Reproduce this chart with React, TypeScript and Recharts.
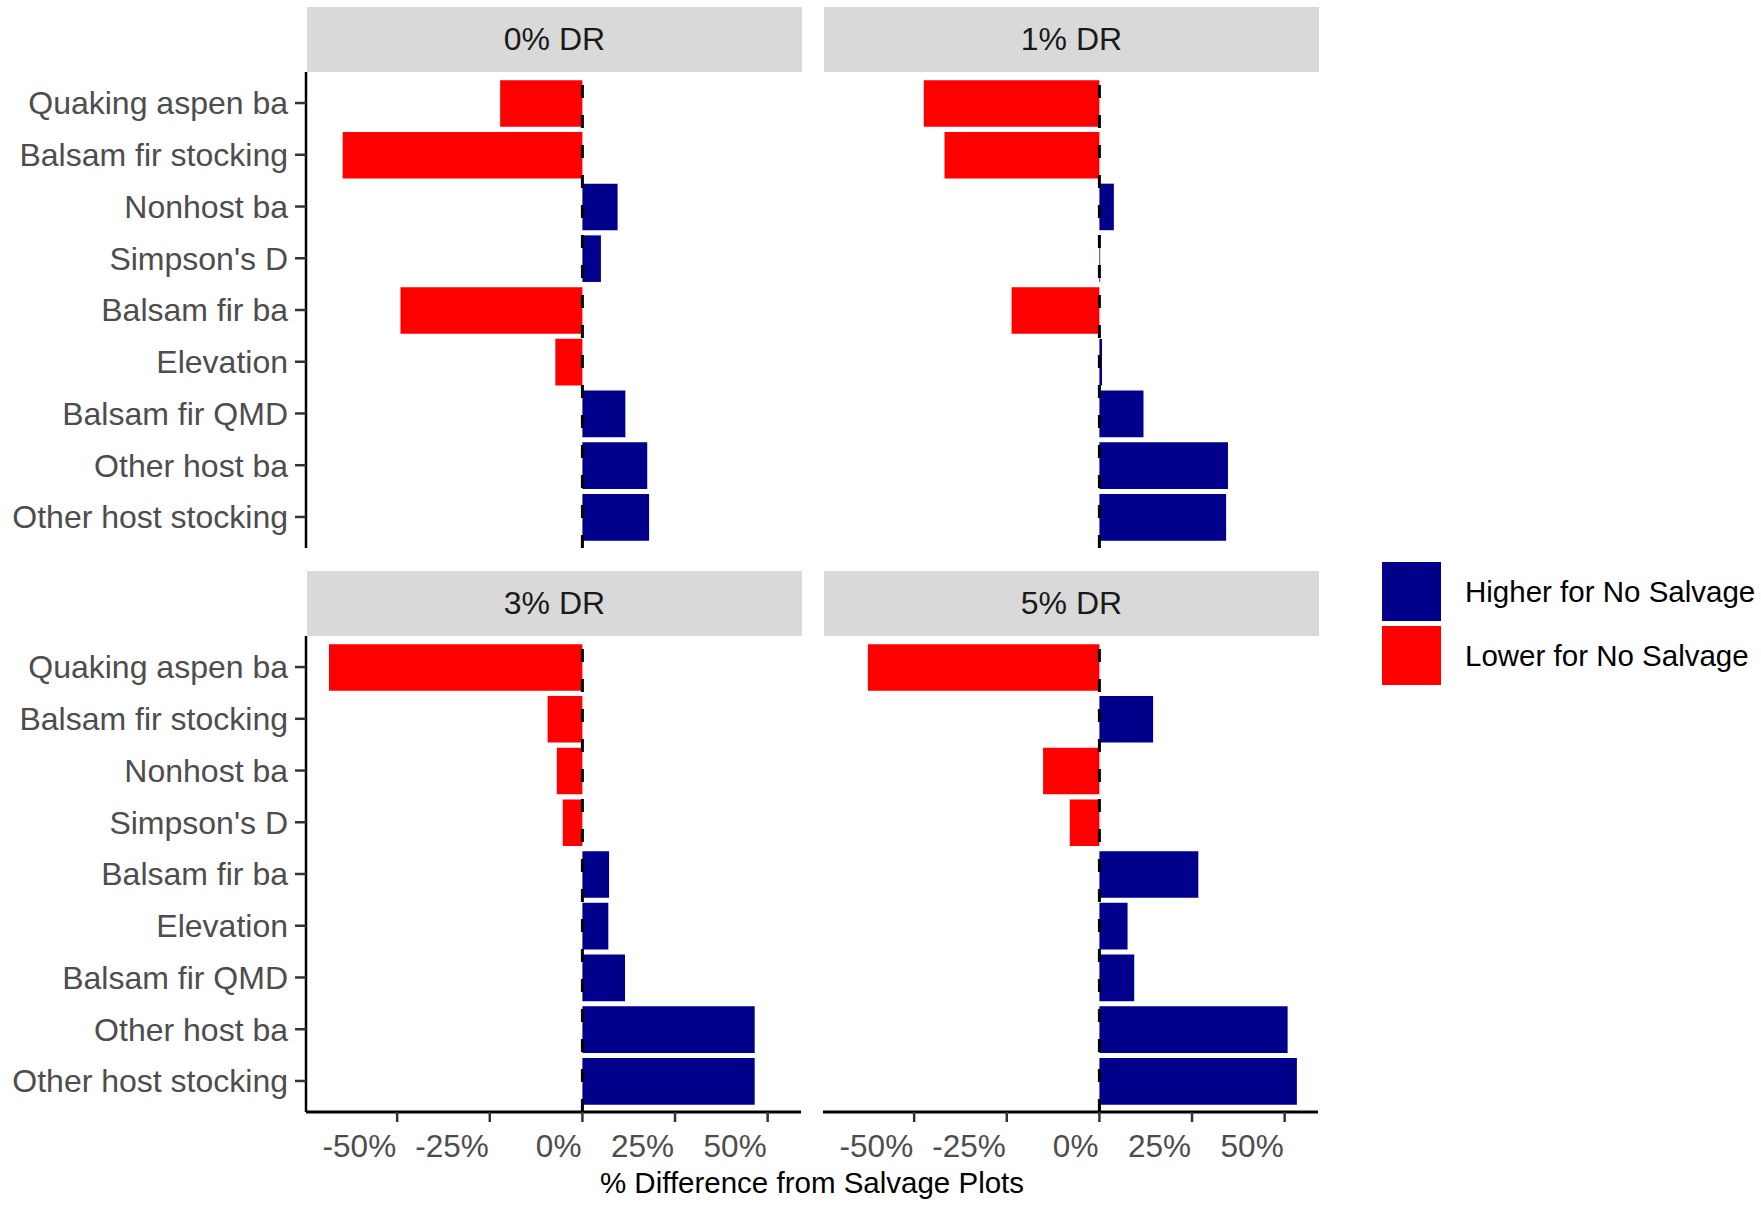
import React from "react";
import { BarChart, Bar, XAxis, YAxis, Cell, ReferenceLine } from "recharts";

const categories = [
  "Quaking aspen ba",
  "Balsam fir stocking",
  "Nonhost ba",
  "Simpson's D",
  "Balsam fir ba",
  "Elevation",
  "Balsam fir QMD",
  "Other host ba",
  "Other host stocking",
];

const dr0 = [-22.2, -64.7, 9.5, 5.0, -49.1, -7.3, 11.6, 17.5, 18.0];
const dr1 = [-47.4, -41.8, 3.9, 0.2, -23.7, 0.7, 11.9, 34.7, 34.2];
const dr3 = [-68.4, -9.4, -6.9, -5.3, 7.2, 7.0, 11.5, 46.5, 46.5];
const dr5 = [-62.5, 14.5, -15.2, -8.0, 26.7, 7.6, 9.4, 50.8, 53.3];

const xTicks = [-50, -25, 0, 25, 50];
const xDomain = [-74.6, 59.0];

const legendItems = ["Higher for No Salvage", "Lower for No Salvage"];

const FONT = "'Liberation Sans', Arial, sans-serif";
const HIGHER = "#00008B";
const LOWER = "#FF0000";

const PLOT_W = 495;
const PLOT_H = 476;
const AXIS_W = 306;
const UNIT = PLOT_H / 9.2;

const panelData = (vals: number[]) =>
  categories.map((name, i) => ({ name, value: vals[i] }));

function XTick(props: any) {
  const { x, y, payload } = props;
  return (
    <text
      x={x - 1}
      y={y + 33}
      textAnchor="end"
      fontSize={31.5}
      fill="#4d4d4d"
      fontFamily={FONT}
    >
      {payload.value}%
    </text>
  );
}

function Panel({
  values,
  left,
  top,
  label,
  showY,
  showX,
}: {
  values: number[];
  left: number;
  top: number;
  label: string;
  showY: boolean;
  showX: boolean;
}) {
  const plotLeft = showY ? left - AXIS_W : left;
  const width = showY ? AXIS_W + PLOT_W : PLOT_W;
  const xH = showX ? 70 : 0;
  return (
    <>
      <div
        style={{
          position: "absolute",
          left: left + 1,
          top: top - 65,
          width: PLOT_W,
          height: 65,
          background: "#d9d9d9",
          display: "flex",
          alignItems: "center",
          justifyContent: "center",
          fontFamily: FONT,
          fontSize: 32,
          color: "#1a1a1a",
        }}
      >
        {label}
      </div>
      <div style={{ position: "absolute", left: plotLeft, top }}>
        <BarChart
          width={width}
          height={PLOT_H + xH}
          data={panelData(values)}
          layout="vertical"
          margin={{ top: 0, right: 0, bottom: 0, left: 0 }}
        >
          <XAxis
            type="number"
            domain={xDomain}
            allowDataOverflow
            ticks={xTicks}
            hide={!showX}
            height={xH}
            axisLine={{ stroke: "#000", strokeWidth: 3 }}
            tickLine={{ stroke: "#333", strokeWidth: 2.5 }}
            tickSize={10}
            tick={<XTick />}
            interval={0}
          />
          <YAxis
            type="category"
            dataKey="name"
            hide={!showY}
            width={AXIS_W}
            padding={{ top: UNIT * 0.1, bottom: UNIT * 0.1 }}
            axisLine={{ stroke: "#000", strokeWidth: 2.5 }}
            tickLine={{ stroke: "#333", strokeWidth: 2.5 }}
            tickSize={11}
            tickMargin={7}
            interval={0}
            tick={{ fontSize: 32, fill: "#4d4d4d", fontFamily: FONT }}
          />
          <Bar dataKey="value" barSize={UNIT * 0.9} isAnimationActive={false}>
            {values.map((v, i) => (
              <Cell key={i} fill={v >= 0 ? HIGHER : LOWER} />
            ))}
          </Bar>
          <ReferenceLine
            x={0}
            stroke="#000"
            strokeWidth={3}
            strokeDasharray="13 17"
          />
        </BarChart>
      </div>
    </>
  );
}

export default function App() {
  return (
    <div
      style={{
        position: "absolute",
        left: 0,
        top: 0,
        width: 1761,
        height: 1211,
        background: "#fff",
        fontFamily: FONT,
      }}
    >
      <Panel values={dr0} left={306} top={72} label="0% DR" showY showX={false} />
      <Panel values={dr1} left={823} top={72} label="1% DR" showY={false} showX={false} />
      <Panel values={dr3} left={306} top={636} label="3% DR" showY showX />
      <Panel values={dr5} left={823} top={636} label="5% DR" showY={false} showX />

      <div
        style={{
          position: "absolute",
          left: 306,
          width: 1012,
          top: 1164,
          textAlign: "center",
          fontSize: 29.5,
          lineHeight: "38px",
          color: "#000",
        }}
      >
        % Difference from Salvage Plots
      </div>

      {legendItems.map((t, i) => (
        <div
          key={t}
          style={{
            position: "absolute",
            left: 1382,
            top: 562 + i * 64,
            height: 59,
            display: "flex",
            alignItems: "center",
          }}
        >
          <div
            style={{
              width: 59,
              height: 59,
              background: i === 0 ? HIGHER : LOWER,
            }}
          />
          <div
            style={{
              marginLeft: 24,
              fontSize: 29.5,
              color: "#000",
              whiteSpace: "nowrap",
            }}
          >
            {t}
          </div>
        </div>
      ))}
    </div>
  );
}
